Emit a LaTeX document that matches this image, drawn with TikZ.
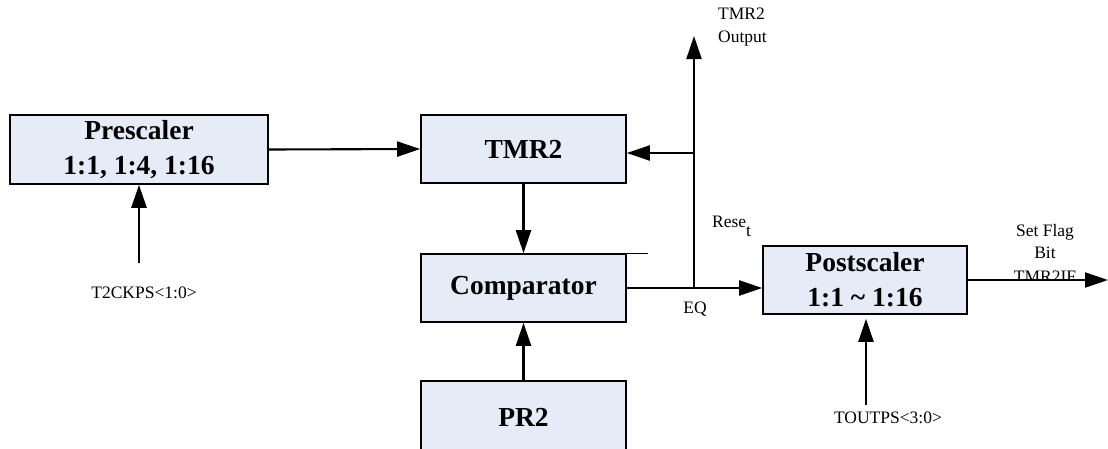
\documentclass[tikz,border=0pt]{standalone}
\usepackage{fontspec}
\setmainfont{Liberation Serif}
\usetikzlibrary{arrows.meta}
\definecolor{boxfill}{RGB}{229,236,247}
\tikzset{
  blk/.style={draw=black, line width=1.6pt, fill=boxfill, align=center, inner sep=0pt,
    font=\bfseries\fontsize{27.5}{35}\selectfont},
  conn/.style={line width=2.1pt, -{Triangle[length=23pt,width=15pt]}},
  lbl/.style={font=\fontsize{17.5}{23}\selectfont, inner sep=0pt},
}
\begin{document}
\begin{tikzpicture}[x=1pt,y=-1pt]
\useasboundingbox (0,0) rectangle (1108,448);
\clip (0,0) rectangle (1108,448);
\node[blk, minimum width=258pt, minimum height=69pt] (pre) at (139,149.5) {Prescaler\\1:1, 1:4, 1:16};
\node[blk, minimum width=205pt, minimum height=68pt] (tmr) at (523.5,149) {TMR2};
\node[blk, minimum width=205pt, minimum height=68pt] (cmp) at (523.5,288) {Comparator};
\node[blk, minimum width=205pt, minimum height=72pt] (pr2) at (523.5,417) {PR2};
\node[blk, minimum width=204pt, minimum height=68pt] (post) at (865,280) {Postscaler\\1:1 \textasciitilde{} 1:16};
\draw[line width=1.2pt] (cmp.north east) -- ++(21,0) coordinate (ext);

\coordinate (tin) at (139,263);
\coordinate (j) at (694,288);
\coordinate (k) at (694,153);
\coordinate (top) at (694,36);
\coordinate (outr) at (1108,280);
\coordinate (tout) at (866,405);

\draw[conn] (pre.east) -- (tmr.west);
\draw[conn, line width=2.6pt] (tin) -- (pre.south);
\draw[conn] (tmr.south) -- (cmp.north);
\draw[conn] (pr2.north) -- (cmp.south);
\draw[conn] (cmp.east) -- (cmp.east -| post.west);
\draw[conn] (j) -- (top);
\draw[conn] (k) -- (k -| tmr.east);
\draw[conn] (post.east) -- (outr);
\draw[conn, shorten >=4pt] (tout) -- (tout |- post.south);

\node[lbl, anchor=north] (t2) at (144,287) {T2CKPS<1:0>};
\node[lbl, anchor=north] (tp) at (888,412) {TOUTPS<3:0>};
\node[lbl, anchor=north west, align=left] (to) at (718,8) {TMR2\\Output};
\node[lbl, anchor=base west] (rs) at (712,227) {Rese\raisebox{-9pt}{t}};
\node[lbl] (eq) at (695,309) {EQ};
\node[lbl, anchor=base] (sf) at (1045,236) {Set Flag};
\node[lbl, anchor=base] (bt) at (1045,258) {Bit};
\begin{scope}
\clip (980,200) rectangle (1100,279.5);
\node[lbl, anchor=base] (tf) at (1045,282) {TMR2IF};
\end{scope}
\end{tikzpicture}
\end{document}
